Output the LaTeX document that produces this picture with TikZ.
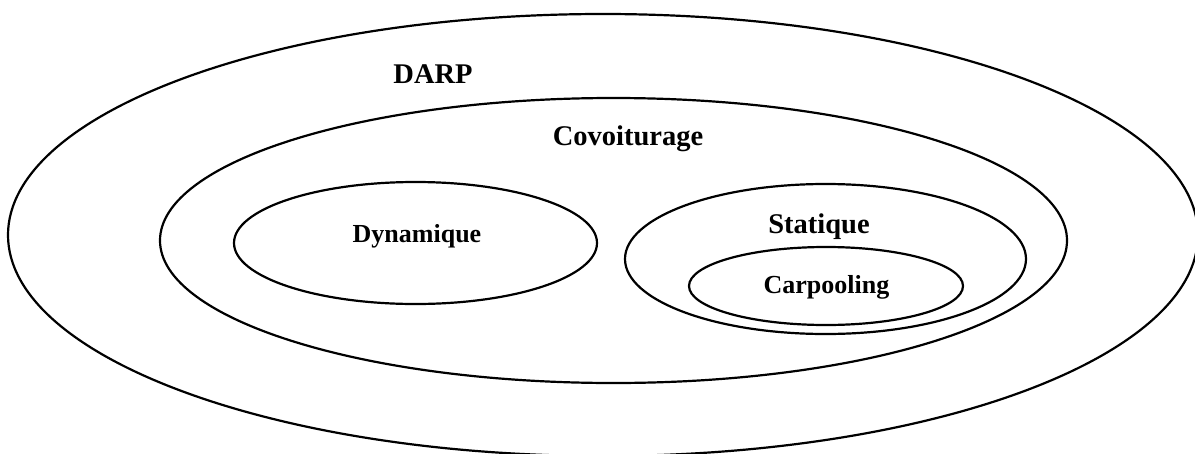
\documentclass[tikz,border=0pt]{standalone}
\usepackage{fontspec}
\setmainfont{Liberation Serif}
\usetikzlibrary{shapes.geometric}
\begin{document}
\begin{tikzpicture}[x=1pt,y=-1pt,
  set/.style={ellipse, draw=black, line width=2.2pt, inner sep=0pt},
  biglabel/.style={anchor=base, inner sep=0pt, font=\bfseries\fontsize{28.5}{32}\selectfont},
  smalllabel/.style={anchor=base, inner sep=0pt, font=\bfseries\fontsize{26}{30}\selectfont}]
  \useasboundingbox (0,0) rectangle (1195,453);
  % nested sets
  \node[set, minimum width=1190pt, minimum height=442pt] (darp) at (603,235) {};
  \node[set, minimum width=907pt, minimum height=285pt] (covoit) at (613.5,240.5) {};
  \node[set, minimum width=363pt, minimum height=122pt] (dyn) at (415.5,243) {};
  \node[set, minimum width=401pt, minimum height=150pt] (stat) at (825.5,259) {};
  \node[set, minimum width=274pt, minimum height=78pt] (carpool) at (826,286) {};
  % labels
  \node[biglabel] (tdarp) at (433,83) {DARP};
  \node[biglabel] (tcovoit) at (628,145) {Covoiturage};
  \node[biglabel] (tstat) at (819,233) {Statique};
  \node[smalllabel] (tdyn) at (417,242) {Dynamique};
  \node[smalllabel] (tcarpool) at (826.5,293) {Carpooling};
\end{tikzpicture}
\end{document}
